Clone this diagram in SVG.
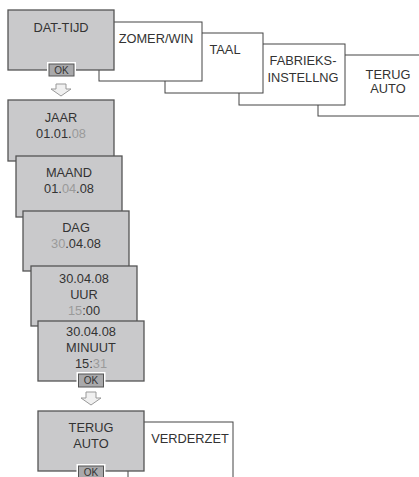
<svg xmlns="http://www.w3.org/2000/svg" width="419" height="477" viewBox="0 0 419 477">
<style>
text{font-family:"Liberation Sans",Arial,sans-serif;font-size:12.8px;fill:#333;text-anchor:middle}
.g{fill:#c9c9cb;stroke:#555;stroke-width:1.3}
.w{fill:#fff;stroke:#444;stroke-width:1}
.lt{fill:#9a9a9a}
.okbg{fill:#fff}
.ok{fill:#a9a9ab;stroke:#555;stroke-width:1}
.okt{font-size:10px;fill:#333}
.arr{fill:#f0f0f0;stroke:#999;stroke-width:1}
</style>
<rect width="419" height="477" fill="#fff"/>
<g id="terug-auto-top"><rect class="w" x="318" y="55" width="110" height="61"/><text x="388" y="79">TERUG</text><text x="388" y="93">AUTO</text></g>
<g id="fabrieks"><rect class="w" x="239" y="44" width="106" height="61"/><text x="303" y="65">FABRIEKS-</text><text x="303" y="82">INSTELLNG</text></g>
<g id="taal"><rect class="w" x="165" y="33" width="98" height="60"/><text x="225" y="54">TAAL</text></g>
<g id="zomer"><rect class="w" x="99" y="22" width="103" height="59"/><text x="156" y="43">ZOMER/WIN</text></g>
<g id="dat-tijd"><rect class="g" x="8" y="10" width="106" height="60"/><text x="61" y="32">DAT-TIJD</text>
<rect class="okbg" x="47" y="62" width="29" height="16"/><rect class="ok" x="49" y="64" width="25" height="12"/><text class="okt" x="61.5" y="73.6">OK</text></g>
<g id="jaar"><rect class="g" x="8" y="100" width="106" height="61"/><text x="61" y="122">JAAR</text><text x="61" y="138">01.01.<tspan class="lt">08</tspan></text></g>
<g id="maand"><rect class="g" x="16" y="156" width="106" height="61"/><text x="69" y="177">MAAND</text><text x="69" y="193">01.<tspan class="lt">04</tspan>.08</text></g>
<g id="dag"><rect class="g" x="23" y="211" width="106" height="60"/><text x="76" y="232">DAG</text><text x="76" y="248"><tspan class="lt">30</tspan>.04.08</text></g>
<g id="uur"><rect class="g" x="31" y="266" width="106" height="60"/><text x="84" y="283">30.04.08</text><text x="84" y="299">UUR</text><text x="84" y="315"><tspan class="lt">15</tspan>:00</text></g>
<g id="minuut"><rect class="g" x="38" y="321" width="106" height="60"/><text x="91" y="336">30.04.08</text><text x="91" y="352">MINUUT</text><text x="91" y="368">15:<tspan class="lt">31</tspan></text>
<rect class="okbg" x="76.5" y="372" width="29" height="17"/><rect class="ok" x="78.5" y="374" width="25" height="13"/><text class="okt" x="91" y="384.2">OK</text></g>
<g id="verderzet"><rect class="w" x="128" y="422" width="105" height="70"/><text x="190" y="443">VERDERZET</text></g>
<g id="terug-auto"><rect class="g" x="38" y="411" width="106" height="60"/><text x="91" y="432">TERUG</text><text x="91" y="448">AUTO</text>
<rect class="okbg" x="76.5" y="464" width="29" height="16"/><rect class="ok" x="78.5" y="466" width="25" height="13"/><text class="okt" x="91" y="476.3">OK</text></g>
<g id="connectors">
<path class="arr" d="M56,84H66V89H71L61,96L51,89H56Z"/>
<path class="arr" d="M86,392H96V398H101L91,405L81,398H86Z"/>
</g>
</svg>
